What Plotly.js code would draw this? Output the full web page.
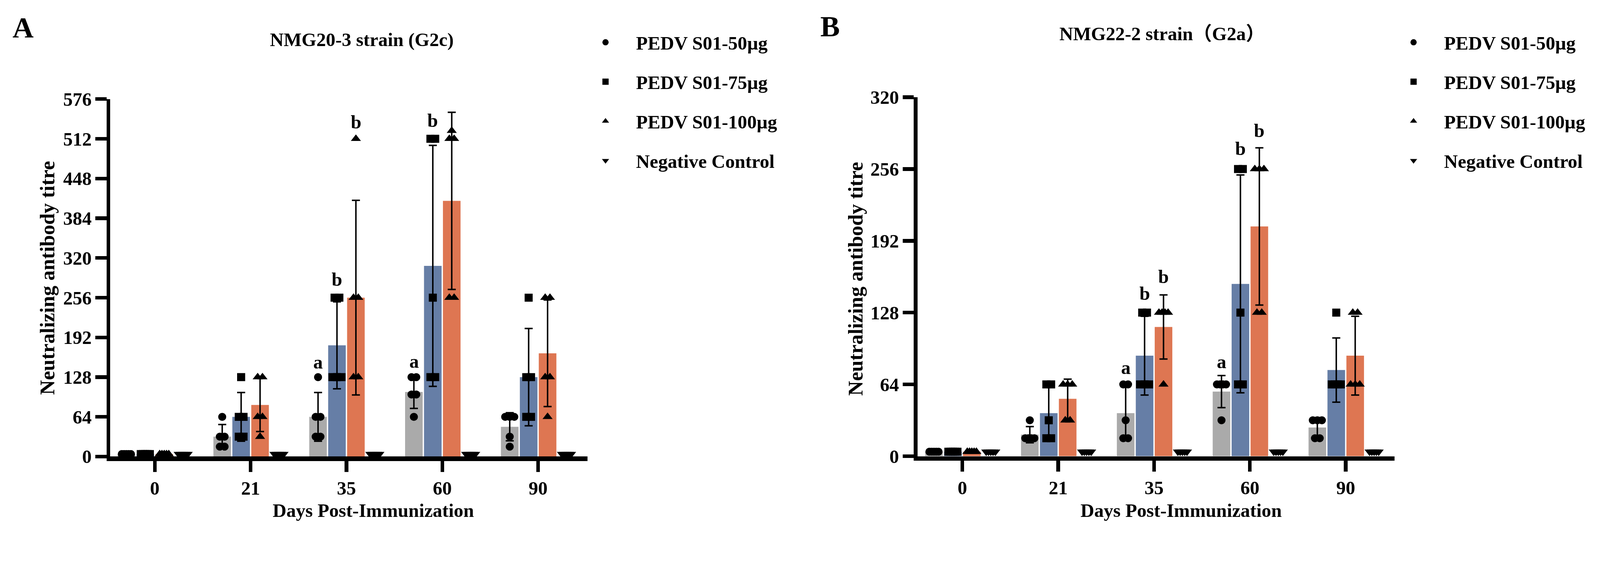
<!DOCTYPE html>
<html>
<head>
<meta charset="utf-8">
<script src="https://cdn.plot.ly/plotly-3.0.1.min.js"></script>
<style>
  html, body { margin: 0; padding: 0; background: #fff; overflow: hidden; }
</style>
</head>
<body>
<div id="chart"></div>
<script>
// categories and series names
const days = ["0", "21", "35", "60", "90"];
const groupNames = ["PEDV S01-50µg", "PEDV S01-75µg", "PEDV S01-100µg", "Negative Control"];

// panel A - NMG20-3 strain (G2c), individual titres per day (5 animals)
const aPts50 = [[4, 4, 4, 4, 4], [64, 32, 32, 16, 16], [128, 64, 64, 32, 32], [128, 128, 100, 100, 64], [64, 64, 64, 32, 16]];
const aPts75 = [[4, 4, 4, 4, 4], [128, 64, 64, 32, 32], [256, 256, 128, 128, 128], [512, 512, 256, 128, 128], [256, 128, 128, 64, 64]];
const aPts100 = [[4, 4, 4, 4, 4], [128, 128, 64, 64, 32], [512, 256, 256, 128, 128], [525, 512, 512, 256, 256], [256, 256, 128, 128, 64]];
const aPtsNeg = [[4, 4, 4, 4, 4], [4, 4, 4, 4, 4], [4, 4, 4, 4, 4], [4, 4, 4, 4, 4], [4, 4, 4, 4, 4]];
// bar heights (mean) and error bars (SD)
const aMean50 = [4, 32, 64, 104, 48];
const aMean75 = [4, 64, 179.2, 307.2, 128];
const aMean100 = [4, 83.2, 256, 412, 166.4];
const aMeanNeg = [4, 4, 4, 4, 4];
const aSd50 = [0, 19.6, 39.2, 26.4, 22.6];
const aSd75 = [0, 39.2, 70.1, 194.1, 78.4];
const aSd100 = [0, 42.9, 156.8, 142.7, 85.9];
const aYTicks = [0, 64, 128, 192, 256, 320, 384, 448, 512, 576];
// significance letters: day index, group index, letter, height
const aSigDay = [2, 2, 2, 3, 3, 3];
const aSigGroup = [0, 1, 2, 0, 1, 2];
const aSigText = ["a", "b", "b", "a", "b", "b"];
const aSigY = [152, 285, 539, 153, 541, 583];

// panel B - NMG22-2 strain (G2a)
const bPts50 = [[4, 4, 4, 4, 4], [32, 16, 16, 16, 16], [64, 64, 32, 16, 16], [64, 64, 64, 64, 32], [32, 32, 32, 16, 16]];
const bPts75 = [[4, 4, 4, 4, 4], [64, 64, 32, 16, 16], [128, 128, 64, 64, 64], [256, 256, 128, 64, 64], [128, 64, 64, 64, 64]];
const bPts100 = [[4, 4, 4, 4, 4], [64, 64, 64, 32, 32], [128, 128, 128, 128, 64], [256, 256, 256, 128, 128], [128, 128, 64, 64, 64]];
const bPtsNeg = [[4, 4, 4, 4, 4], [4, 4, 4, 4, 4], [4, 4, 4, 4, 4], [4, 4, 4, 4, 4], [4, 4, 4, 4, 4]];
const bMean50 = [4, 19.2, 38.4, 57.6, 25.6];
const bMean75 = [4, 38.4, 89.6, 153.6, 76.8];
const bMean100 = [4, 51.2, 115.2, 204.8, 89.6];
const bMeanNeg = [4, 4, 4, 4, 4];
const bSd50 = [0, 7.2, 24.3, 14.3, 8.8];
const bSd75 = [0, 24.3, 35.1, 97.1, 28.6];
const bSd100 = [0, 17.5, 28.6, 70.1, 35.1];
const bYTicks = [0, 64, 128, 192, 256, 320];
const bSigDay = [2, 2, 2, 3, 3, 3];
const bSigGroup = [0, 1, 2, 0, 1, 2];
const bSigText = ["a", "b", "b", "a", "b", "b"];
const bSigY = [79, 145, 160, 84, 274, 290];

// figure is designed on a 4374 x 1460 grid, then scaled to the real viewport
const W0 = 4374, H0 = 1460;
const k = Math.min((window.innerWidth || W0) / W0, (window.innerHeight || H0) / H0);
const W = Math.floor(W0 * k), H = Math.floor(H0 * k);
const s = v => v * k;

const barColors = ["#aaaaaa", "#667ea6", "#de7652", "#ffffff"];
const symbols = ["circle", "square", "triangle-up", "triangle-down"];
const markerSizes = [22, 22, 24, 24];
const BARGAP = 0.21;
const slotW = (1 - BARGAP) / 4;
const serif = "Liberation Serif, Times New Roman, Noto Sans CJK SC, serif";
const boldFont = { family: serif, size: s(52), color: "#000", weight: "bold" };
const bigFont = Object.assign({}, boldFont, { size: s(80) });
const yTitleFont = Object.assign({}, boldFont, { size: s(56) });

const px = x => x / W0;
const py = y => 1 - y / H0;

function slotCenter(dayIdx, g) {
  return dayIdx - (1 - BARGAP) / 2 + slotW * (g + 0.5);
}

// equal values are put side by side, like a scatter dot plot
function spreadX(dayIdx, g, vals) {
  const count = {}, used = {};
  vals.forEach(v => { count[v] = (count[v] || 0) + 1; });
  return vals.map(v => {
    const n = count[v];
    const i = used[v] || 0;
    used[v] = i + 1;
    const step = n > 1 ? Math.min(0.05, 0.095 / (n - 1)) : 0;
    return slotCenter(dayIdx, g) + (i - (n - 1) / 2) * step;
  });
}

function panelTraces(pts, means, sds, xa, ya, legendId) {
  const bars = [], dots = [];
  means.forEach((m, g) => {
    bars.push({
      type: "bar",
      x: days.map((d, i) => i),
      y: m,
      xaxis: xa, yaxis: ya,
      marker: { color: barColors[g], line: { width: 0 } },
      error_y: sds[g]
        ? { type: "data", array: sds[g], visible: true, color: "#000", thickness: s(4), width: s(11) }
        : { visible: false },
      showlegend: false,
      hoverinfo: "skip"
    });
  });
  pts.forEach((series, g) => {
    const xs = [], ys = [];
    series.forEach((vals, i) => {
      spreadX(i, g, vals).forEach(x => xs.push(x));
      vals.forEach(v => ys.push(v));
    });
    dots.push({
      type: "scatter",
      mode: "markers",
      x: xs, y: ys,
      xaxis: xa, yaxis: ya,
      name: groupNames[g],
      legend: legendId,
      legendgroup: legendId + g,
      marker: { symbol: symbols[g], size: s(markerSizes[g]), color: "#000", line: { width: 0 } },
      hoverinfo: "skip"
    });
  });
  return bars.concat(dots);
}

function sigAnnotations(dayArr, grpArr, txtArr, yArr, xref, yref) {
  return txtArr.map((t, i) => ({
    x: slotCenter(dayArr[i], grpArr[i]), y: yArr[i],
    xref: xref, yref: yref,
    text: t, showarrow: false,
    xanchor: "center", yanchor: "middle",
    font: boldFont
  }));
}

function paperText(text, x, y, extra) {
  return Object.assign({
    x: px(x), y: py(y), xref: "paper", yref: "paper",
    text: text, showarrow: false,
    xanchor: "center", yanchor: "middle",
    font: boldFont
  }, extra || {});
}

const data = panelTraces(
  [aPts50, aPts75, aPts100, aPtsNeg],
  [aMean50, aMean75, aMean100, aMeanNeg],
  [aSd50, aSd75, aSd100, null],
  "x", "y", "legend"
).concat(panelTraces(
  [bPts50, bPts75, bPts100, bPtsNeg],
  [bMean50, bMean75, bMean100, bMeanNeg],
  [bSd50, bSd75, bSd100, null],
  "x2", "y2", "legend2"
));

const xAxisBase = {
  tickmode: "array",
  tickvals: days.map((d, i) => i),
  ticktext: days,
  showline: true, linecolor: "#000", linewidth: s(12),
  ticks: "outside", ticklen: s(30), tickwidth: s(10), tickcolor: "#000",
  showgrid: false, zeroline: false,
  tickfont: boldFont, fixedrange: true
};
const yAxisBase = {
  tickmode: "array",
  showline: true, linecolor: "#000", linewidth: s(10),
  ticks: "outside", ticklen: s(30), tickwidth: s(10), tickcolor: "#000",
  showgrid: false, zeroline: false,
  tickfont: boldFont, fixedrange: true
};
const legendBase = {
  xanchor: "left", yanchor: "top",
  font: boldFont,
  itemwidth: s(156),
  tracegroupgap: s(37),
  traceorder: "grouped",
  bgcolor: "rgba(0,0,0,0)",
  borderwidth: 0
};

const layout = {
  width: W, height: H,
  margin: { l: 0, r: 0, t: 0, b: 0 },
  paper_bgcolor: "#fff", plot_bgcolor: "#fff",
  barmode: "group", bargap: BARGAP, bargroupgap: 0.07,
  font: boldFont,
  xaxis: Object.assign({}, xAxisBase, { domain: [px(301), px(1606)], range: [-0.466, 4.515], anchor: "y" }),
  yaxis: Object.assign({}, yAxisBase, { domain: [py(1249), py(271)], range: [0, 576], tickvals: aYTicks, anchor: "x" }),
  xaxis2: Object.assign({}, xAxisBase, { domain: [px(2508), px(3812)], range: [-0.469, 4.508], anchor: "y2" }),
  yaxis2: Object.assign({}, yAxisBase, { domain: [py(1248), py(266)], range: [0, 320], tickvals: bYTicks, anchor: "x2" }),
  legend: Object.assign({}, legendBase, { x: px(1572), y: py(75) }),
  legend2: Object.assign({}, legendBase, { x: px(3781), y: py(75) }),
  annotations: [
    paperText("A", 63, 75, { font: bigFont }),
    paperText("B", 2269, 72, { font: bigFont }),
    paperText("NMG20-3 strain (G2c)", 989, 109),
    paperText("NMG22-2 strain（G2a）", 3177, 93),
    paperText("Days Post-Immunization", 1020, 1397),
    paperText("Days Post-Immunization", 3229, 1397),
    paperText("Neutralizing antibody titre", 129, 760, { textangle: -90, font: yTitleFont }),
    paperText("Neutralizing antibody titre", 2339, 763, { textangle: -90, font: yTitleFont })
  ].concat(
    sigAnnotations(aSigDay, aSigGroup, aSigText, aSigY, "x", "y"),
    sigAnnotations(bSigDay, bSigGroup, bSigText, bSigY, "x2", "y2")
  )
};

const chartDiv = document.getElementById("chart");
chartDiv.style.width = W + "px";
chartDiv.style.height = H + "px";
Plotly.newPlot(chartDiv, data, layout, { staticPlot: true, displayModeBar: false });
</script>
</body>
</html>
